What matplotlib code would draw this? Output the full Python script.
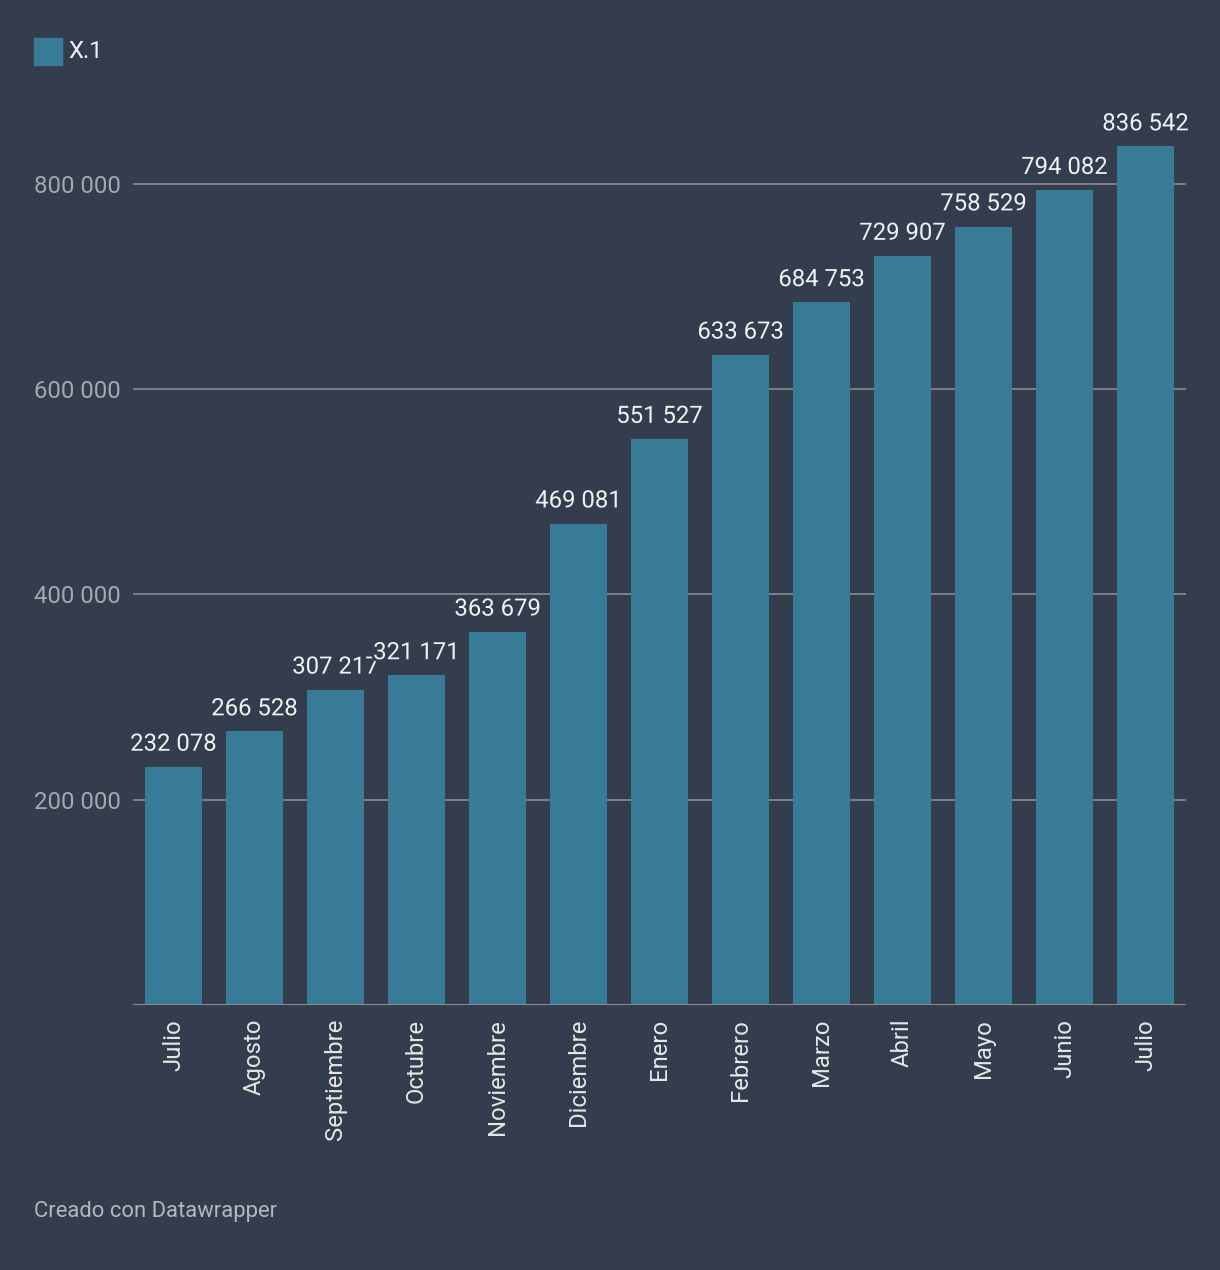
import matplotlib.pyplot as plt
import matplotlib.patheffects as pe

meses = ['Julio', 'Agosto', 'Septiembre', 'Octubre', 'Noviembre', 'Diciembre',
         'Enero', 'Febrero', 'Marzo', 'Abril', 'Mayo', 'Junio', 'Julio']
valores = [232078, 266528, 307217, 321171, 363679, 469081, 551527,
           633673, 684753, 729907, 758529, 794082, 836542]
ticks_y = [200000, 400000, 600000, 800000]
serie = 'X.1'

fondo = '#333d4d'
color_barra = '#387b96'

plt.rcParams['font.family'] = ['Roboto', 'DejaVu Sans']

fig = plt.figure(figsize=(12.2, 12.7), dpi=100, facecolor=fondo)
ax = fig.add_axes([0.109, 0.2087, 0.8631, 0.7111])
ax.set_facecolor(fondo)

x = list(range(len(valores)))
ax.bar(x, valores, width=0.70, color=color_barra, zorder=2)

def fmt(v):
    return f"{v:,}".replace(",", " ")

for xi, v in zip(x, valores):
    ax.annotate(fmt(v), (xi, v), xytext=(0, 8), textcoords='offset points',
                ha='center', va='bottom', fontsize=17.2, color='#f2f2f2', zorder=3,
                path_effects=[pe.withStroke(linewidth=4, foreground=fondo)])

ax.set_xlim(-0.5, len(valores) - 0.5)
ax.set_ylim(0, 880000)

# Rejilla
for t in ticks_y:
    ax.axhline(t, color='#8a8d91', linewidth=1.2, zorder=1)
ax.axhline(0, color='#8a8d91', linewidth=1.5, zorder=3)

ax.set_yticks(ticks_y)
ax.set_yticklabels([fmt(t) for t in ticks_y], fontsize=17.2, color='#a4a9ae')
ax.set_xticks(x)
ax.set_xticklabels(meses, rotation=90, fontsize=17.2, color='#e6e6e6', va='top')
ax.tick_params(axis='both', length=0)
ax.tick_params(axis='x', pad=10)
ax.tick_params(axis='y', pad=9)
for s in ax.spines.values():
    s.set_visible(False)

# Leyenda
fig.patches.append(plt.Rectangle((34 / 1220, 1 - 65 / 1270), 28 / 1220, 27 / 1270,
                                 transform=fig.transFigure, color=color_barra))
fig.text(68 / 1220, 1 - 51 / 1270, serie, fontsize=17.2, color='#f2f2f2', va='center')

fig.text(34 / 1220, 1 - 1211 / 1270, 'Creado con Datawrapper', fontsize=15.8,
         color='#b4b8bd', va='center')

fig.savefig('out.png', dpi=100, facecolor=fondo)
